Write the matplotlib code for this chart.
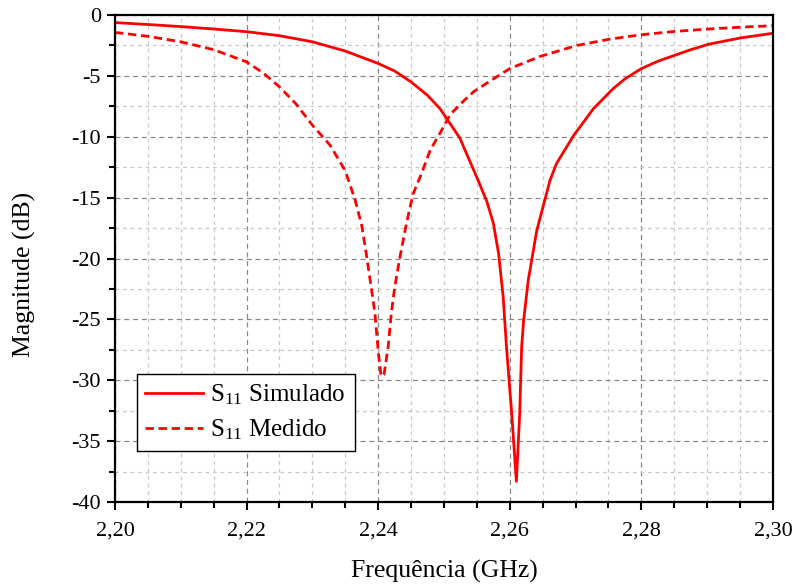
import numpy as np
import matplotlib.pyplot as plt
from matplotlib.ticker import MultipleLocator, FuncFormatter

plt.rcParams['font.family'] = ['Liberation Serif', 'DejaVu Serif']
plt.rcParams['mathtext.fontset'] = 'custom'
plt.rcParams['mathtext.rm'] = 'Liberation Serif'
plt.rcParams['mathtext.it'] = 'Liberation Serif:italic'

# S11 simulado (GHz, dB)
freq_sim = [2.200, 2.205, 2.210, 2.215, 2.220, 2.225, 2.230, 2.235, 2.240, 2.2425,
            2.245, 2.2475, 2.2494, 2.2524, 2.2552, 2.2565, 2.2575, 2.2583, 2.2590,
            2.2595, 2.2603, 2.2610, 2.2615, 2.2618, 2.2621, 2.2628, 2.2641, 2.2661,
            2.2671, 2.2697, 2.2727, 2.2757, 2.2775, 2.2800, 2.2825, 2.2851, 2.2875,
            2.2902, 2.2952, 2.300]
s11_sim = [-0.62, -0.78, -0.95, -1.15, -1.37, -1.70, -2.2, -2.96, -3.98, -4.6,
           -5.5, -6.6, -7.7, -10.1, -13.6, -15.3, -17.1, -19.6, -23.2,
           -27.3, -32.8, -38.3, -32.8, -27.3, -25.1, -21.8, -17.7, -13.6,
           -12.2, -9.9, -7.7, -6.05, -5.25, -4.4, -3.8, -3.3, -2.85,
           -2.4, -1.87, -1.5]

# S11 medido (GHz, dB)
freq_med = [2.200, 2.205, 2.210, 2.215, 2.220, 2.2225, 2.225, 2.2275, 2.230, 2.2327,
            2.235, 2.2365, 2.2375, 2.2381, 2.2390, 2.2395, 2.2400, 2.2404, 2.2406,
            2.2409, 2.2415, 2.2420, 2.2425, 2.2433, 2.2443, 2.2453, 2.2466, 2.2479,
            2.2494, 2.2509, 2.2529, 2.2545, 2.2575, 2.2600, 2.2646, 2.2702, 2.2752,
            2.2800, 2.2850, 2.2902, 2.2950, 2.300]
s11_med = [-1.43, -1.75, -2.2, -2.85, -3.85, -4.75, -5.9, -7.3, -9.05, -10.7,
           -12.8, -15.2, -17.3, -19.3, -22.6, -24.5, -27.6, -29.5, -29.7,
           -29.5, -27.3, -24.5, -22.4, -19.9, -17.1, -14.7, -13.0, -11.1,
           -9.7, -8.2, -7.1, -6.3, -5.25, -4.4, -3.4, -2.5, -1.98,
           -1.62, -1.35, -1.15, -1.0, -0.88]

fig = plt.figure(figsize=(7.92, 5.84), dpi=100)
ax = fig.add_axes([0.1452, 0.1404, 0.8308, 0.8339])

ax.plot(freq_sim, s11_sim, color='#ff0000', lw=2.0, label='S$_{11}$ Simulado')
ax.plot(freq_med, s11_med, color='#ff0000', lw=2.0, ls=(0, (3.0, 1.7)), label='S$_{11}$ Medido')

ax.set_xlim(2.20, 2.30)
ax.set_ylim(-40, 0)
ax.xaxis.set_major_locator(MultipleLocator(0.02))
ax.xaxis.set_minor_locator(MultipleLocator(0.005))
ax.yaxis.set_major_locator(MultipleLocator(5))
ax.yaxis.set_minor_locator(MultipleLocator(2.5))
ax.xaxis.set_major_formatter(FuncFormatter(lambda v, p: f'{v:.2f}'.replace('.', ',')))
ax.yaxis.set_major_formatter(FuncFormatter(lambda v, p: f'{v:.0f}'))

ax.grid(which='major', color='#888888', ls=(0, (4, 3)), lw=0.9)
ax.grid(which='minor', color='#c8c8c8', ls=(0, (3, 3)), lw=0.9)
ax.set_axisbelow(True)

ax.tick_params(which='major', direction='out', length=6, width=1.5, labelsize=16,
               top=False, right=False)
ax.tick_params(axis='x', which='major', pad=8)
ax.tick_params(axis='y', which='major', pad=4)
ax.tick_params(which='minor', direction='out', length=4, width=1.5, top=False, right=False)
for s in ax.spines.values():
    s.set_linewidth(1.6)

ax.set_xlabel('Frequência (GHz)', fontsize=18.5)
ax.set_ylabel('Magnitude (dB)', fontsize=18.5)
ax.xaxis.set_label_coords(0.5, -0.118)
ax.yaxis.set_label_coords(-0.12, 0.468)

leg = ax.legend(loc='upper left', bbox_to_anchor=(0.033, 0.263), borderaxespad=0,
                fontsize=18, frameon=True, fancybox=False, edgecolor='black',
                handlelength=2.3, handletextpad=0.3, borderpad=0.35, labelspacing=0.4)
leg.get_frame().set_linewidth(1.0)
leg.get_frame().set_alpha(1)

fig.savefig('out.png', dpi=100)
